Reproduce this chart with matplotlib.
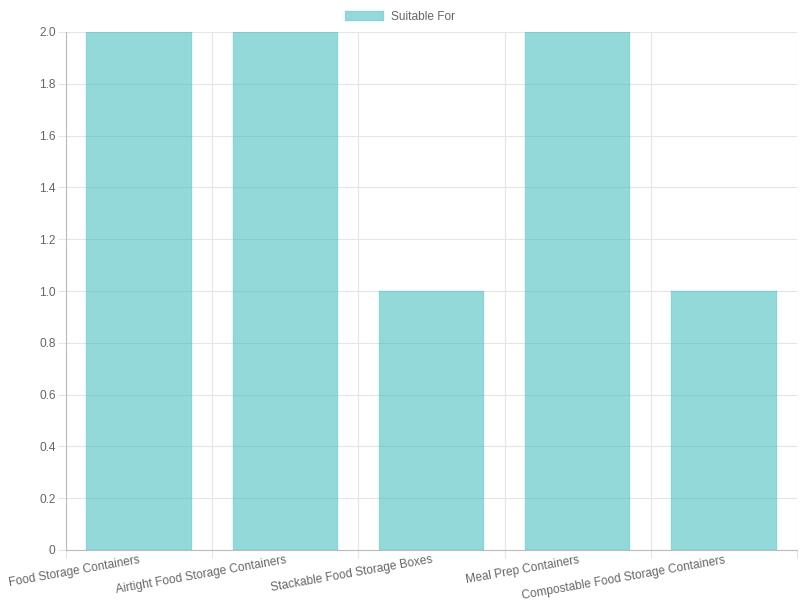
import matplotlib
matplotlib.use("Agg")
import matplotlib.pyplot as plt
from matplotlib.patches import Patch

# chart data
categories = ["Food Storage Containers", "Airtight Food Storage Containers",
              "Stackable Food Storage Boxes", "Meal Prep Containers",
              "Compostable Food Storage Containers"]
suitable_for = [2, 2, 1, 2, 1]
y_ticks = [0, 0.2, 0.4, 0.6, 0.8, 1.0, 1.2, 1.4, 1.6, 1.8, 2.0]

plt.rcParams['font.family'] = ['Liberation Sans', 'DejaVu Sans']
text_color = '#666666'
grid_color = '#e5e5e5'
fill = (75/255, 192/255, 192/255, 0.6)
edge = (75/255, 192/255, 192/255, 0.6)
fs = 8.6

fig = plt.figure(figsize=(8, 6), dpi=100)
ax = fig.add_axes([66/800, 50/600, 731/800, 518/600])

x = list(range(len(categories)))
ax.bar(x, suitable_for, width=0.72, color=fill, edgecolor=edge, linewidth=0.3, zorder=3)

ax.set_xlim(-0.5, len(categories) - 0.5)
ax.set_ylim(0, 2.0)

# y axis
ax.set_yticks(y_ticks)
ax.set_yticklabels(['0'] + ['%.1f' % v for v in y_ticks[1:]])
ax.tick_params(axis='y', length=6, color=grid_color, labelcolor=text_color, labelsize=fs, pad=1.5)
ax.yaxis.grid(True, color=grid_color, linewidth=0.8, zorder=0)

# x axis: grid lines on category boundaries, labels at centres
bounds = [i - 0.5 for i in range(len(categories) + 1)]
ax.set_xticks(bounds)
ax.set_xticklabels([])
ax.tick_params(axis='x', length=6, color=grid_color)
ax.xaxis.grid(True, color=grid_color, linewidth=0.8, zorder=0)
ax.set_xticks(x, minor=True)
ax.set_xticklabels(categories, minor=True, rotation=10, ha='right',
                   rotation_mode='anchor', color=text_color, fontsize=fs)
ax.tick_params(axis='x', which='minor', length=0, pad=3)

for s in ['top', 'right']:
    ax.spines[s].set_visible(False)
for s in ['left', 'bottom']:
    ax.spines[s].set_color('#bbbbbb')
    ax.spines[s].set_linewidth(0.8)

# legend
handle = Patch(facecolor=fill, edgecolor=edge, linewidth=0.3)
fig.legend([handle], ['Suitable For'], loc='upper center', bbox_to_anchor=(0.5, 1.0),
           frameon=False, fontsize=fs, labelcolor=text_color, handlelength=3.3,
           handleheight=1.0, handletextpad=0.6, borderaxespad=0.5)

fig.savefig('out.png', dpi=100)
